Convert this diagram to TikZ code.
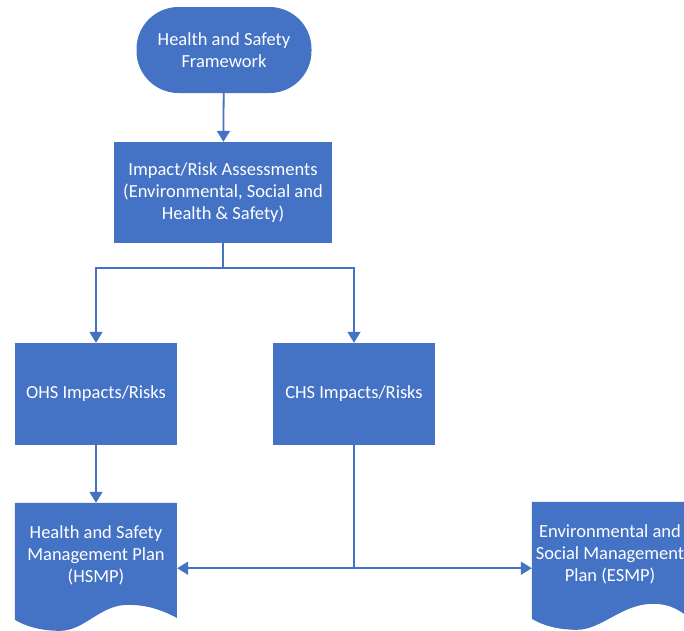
\documentclass[tikz,border=0pt]{standalone}
\usepackage{fontspec}
\setmainfont{Carlito}
\usetikzlibrary{arrows.meta,backgrounds}
\definecolor{boxblue}{HTML}{4472C4}
\definecolor{lineblue}{HTML}{4472C4}
\begin{document}
\begin{tikzpicture}[x=1pt,y=-1pt,
  box/.style={rectangle, fill=boxblue, text=white, align=center, font=\fontsize{18.5}{22}\selectfont, inner sep=0pt},
  term/.style={box, rounded corners=42pt, minimum width=175pt, minimum height=86pt},
  doc/.style={rectangle, text=white, align=center, font=\fontsize{18.5}{22}\selectfont, inner sep=0pt},
  conn/.style={draw=lineblue, line width=1.8pt},
  arr/.style={conn, -{Triangle[length=11pt,width=13pt]}}]
\clip (0,0) rectangle (684,630);
\node[term] (fw) at (224,50) {Health and Safety\\Framework};
\node[box, minimum width=218pt, minimum height=101pt] (ra) at (223,192.5) {Impact/Risk Assessments\\(Environmental, Social and\\Health \& Safety)};
\node[box, minimum width=162pt, minimum height=102pt] (ohs) at (96,394) {OHS Impacts/Risks};
\node[box, minimum width=162pt, minimum height=102pt] (chs) at (354,394) {CHS Impacts/Risks};
\node[doc, minimum width=162pt, minimum height=104pt] (hsmp) at (96,555) {Health and Safety\\Management Plan\\(HSMP)};
\node[doc, minimum width=156pt, minimum height=104pt] (esmp) at (610,554) {Environmental and\\Social Management\\Plan (ESMP)};
\begin{pgfonlayer}{background}
\begin{scope}[shift={(hsmp.north west)}]
\fill[boxblue] (0,0) -- (162,0) -- (162,115) .. controls (145,106) and (130,102) .. (113,102) .. controls (85,102) and (70,128) .. (45,128) .. controls (25,128) and (10,123) .. (0,117) -- cycle;
\end{scope}
\begin{scope}[shift={(esmp.north west)}]
\fill[boxblue] (0,0) -- (156,0) -- (156,115) .. controls (145,106) and (135,102) .. (121,102) .. controls (90,102) and (70,128) .. (45,128) .. controls (25,128) and (10,123) .. (0,117) -- cycle;
\end{scope}
\end{pgfonlayer}
\draw[arr] (fw) -- (ra);
\draw[conn] (ra.south) -- ++(0,24.5) coordinate (jb);
\draw[arr] (jb) -| (ohs.north);
\draw[arr] (jb) -| (chs.north);
\draw[arr] (ohs) -- (hsmp);
\draw[conn] (chs.south) -- ++(0,123) coordinate (jc);
\draw[arr] (jc) -- (jc -| hsmp.east);
\draw[arr] (jc) -- (jc -| esmp.west);
\end{tikzpicture}
\end{document}
